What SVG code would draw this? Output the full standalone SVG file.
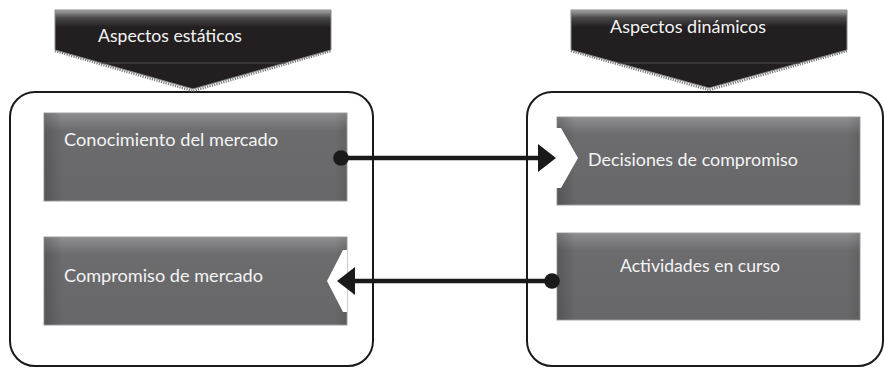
<svg xmlns="http://www.w3.org/2000/svg" width="884" height="368" viewBox="0 0 884 368">
<style>
.container{fill:none;stroke:#1a1a1a;stroke-width:2}
.hdr{fill:url(#hdrGrad);stroke:#8a8a8a;stroke-width:1}
.hdrShadow{fill:none;stroke:#7a7a7a;stroke-width:2.5;stroke-dasharray:1.2 1.2}
.hdrLine{stroke:#4e4c4d;stroke-width:1}
.box{fill:url(#boxGrad);stroke:#a0a0a2;stroke-width:1}
.boxShade{fill:url(#boxSide)}
.chev{fill:#ffffff}
.t{font-family:Lato,"Open Sans","Liberation Sans",sans-serif;font-size:18px;fill:#f4f4f4}
.conn{stroke:#1a1a1a;stroke-width:4.5;fill:none}
</style>
<defs>
<linearGradient id="hdrGrad" x1="0" y1="0" x2="0" y2="1">
<stop offset="0" stop-color="#a8a8a8"/>
<stop offset="0.1" stop-color="#4a4849"/>
<stop offset="0.22" stop-color="#231f20"/>
<stop offset="1" stop-color="#231f20"/>
</linearGradient>
<linearGradient id="boxGrad" x1="0" y1="0" x2="0" y2="1">
<stop offset="0" stop-color="#8e8e91"/>
<stop offset="0.2" stop-color="#6c6c6f"/>
<stop offset="1" stop-color="#67676a"/>
</linearGradient>
<linearGradient id="boxSide" x1="0" y1="0" x2="1" y2="0">
<stop offset="0" stop-color="#000" stop-opacity="0.18"/>
<stop offset="0.06" stop-color="#000" stop-opacity="0"/>
<stop offset="0.96" stop-color="#000" stop-opacity="0"/>
<stop offset="1" stop-color="#000" stop-opacity="0.1"/>
</linearGradient>
<marker id="arrow" viewBox="0 0 18 28" refX="1" refY="14" markerWidth="18" markerHeight="28" markerUnits="userSpaceOnUse" orient="auto">
<path d="M0,0 L18,14 L0,28 Z" fill="#1a1a1a"/>
</marker>
<marker id="dot" viewBox="0 0 16 16" refX="8" refY="8" markerWidth="16" markerHeight="16" markerUnits="userSpaceOnUse" orient="auto">
<circle cx="8" cy="8" r="7.8" fill="#1a1a1a"/>
</marker>
</defs>

<g id="container-estaticos">
<rect class="container" x="10" y="92" width="363" height="274" rx="25"/>
</g>
<g id="container-dinamicos">
<rect class="container" x="527" y="92" width="356" height="274" rx="25"/>
</g>

<g id="header-estaticos">
<polyline class="hdrShadow" points="55,51 193,91 331,51"/>
<path class="hdr" d="M55,10 H331 V50 L193,89 L55,50 Z"/>
<line class="hdrLine" x1="101" y1="63" x2="285" y2="63"/>
<text class="t" x="98" y="42" textLength="144" lengthAdjust="spacingAndGlyphs">Aspectos estáticos</text>
</g>
<g id="header-dinamicos">
<polyline class="hdrShadow" points="571,51 709,90 847,51"/>
<path class="hdr" d="M571,10 H847 V50 L709,88 L571,50 Z"/>
<line class="hdrLine" x1="618" y1="63" x2="800" y2="63"/>
<text class="t" x="610" y="33" textLength="156" lengthAdjust="spacingAndGlyphs">Aspectos dinámicos</text>
</g>

<g id="node-conocimiento">
<rect class="box" x="44" y="113" width="303" height="88"/>
<rect class="boxShade" x="44" y="113" width="303" height="88"/>
<text class="t" x="64" y="146" textLength="214" lengthAdjust="spacingAndGlyphs">Conocimiento del mercado</text>
</g>
<g id="node-compromiso">
<rect class="box" x="44" y="237" width="303" height="88"/>
<rect class="boxShade" x="44" y="237" width="303" height="88"/>
<polygon class="chev" points="347,250 343,250 327,281 343,312 347,312"/>
<text class="t" x="64" y="282" textLength="199" lengthAdjust="spacingAndGlyphs">Compromiso de mercado</text>
</g>
<g id="node-decisiones">
<rect class="box" x="557" y="117" width="303" height="88"/>
<rect class="boxShade" x="557" y="117" width="303" height="88"/>
<polygon class="chev" points="556,128 561,128 578,158 561,188 556,188"/>
<text class="t" x="588" y="166" textLength="210" lengthAdjust="spacingAndGlyphs">Decisiones de compromiso</text>
</g>
<g id="node-actividades">
<rect class="box" x="557" y="233" width="303" height="87"/>
<rect class="boxShade" x="557" y="233" width="303" height="87"/>
<text class="t" x="620" y="272" textLength="160" lengthAdjust="spacingAndGlyphs">Actividades en curso</text>
</g>

<g id="connectors">
<line class="conn" x1="341" y1="158" x2="539" y2="158" marker-start="url(#dot)" marker-end="url(#arrow)"/>
<line class="conn" x1="552" y1="281" x2="354" y2="281" marker-start="url(#dot)" marker-end="url(#arrow)"/>
</g>
</svg>
